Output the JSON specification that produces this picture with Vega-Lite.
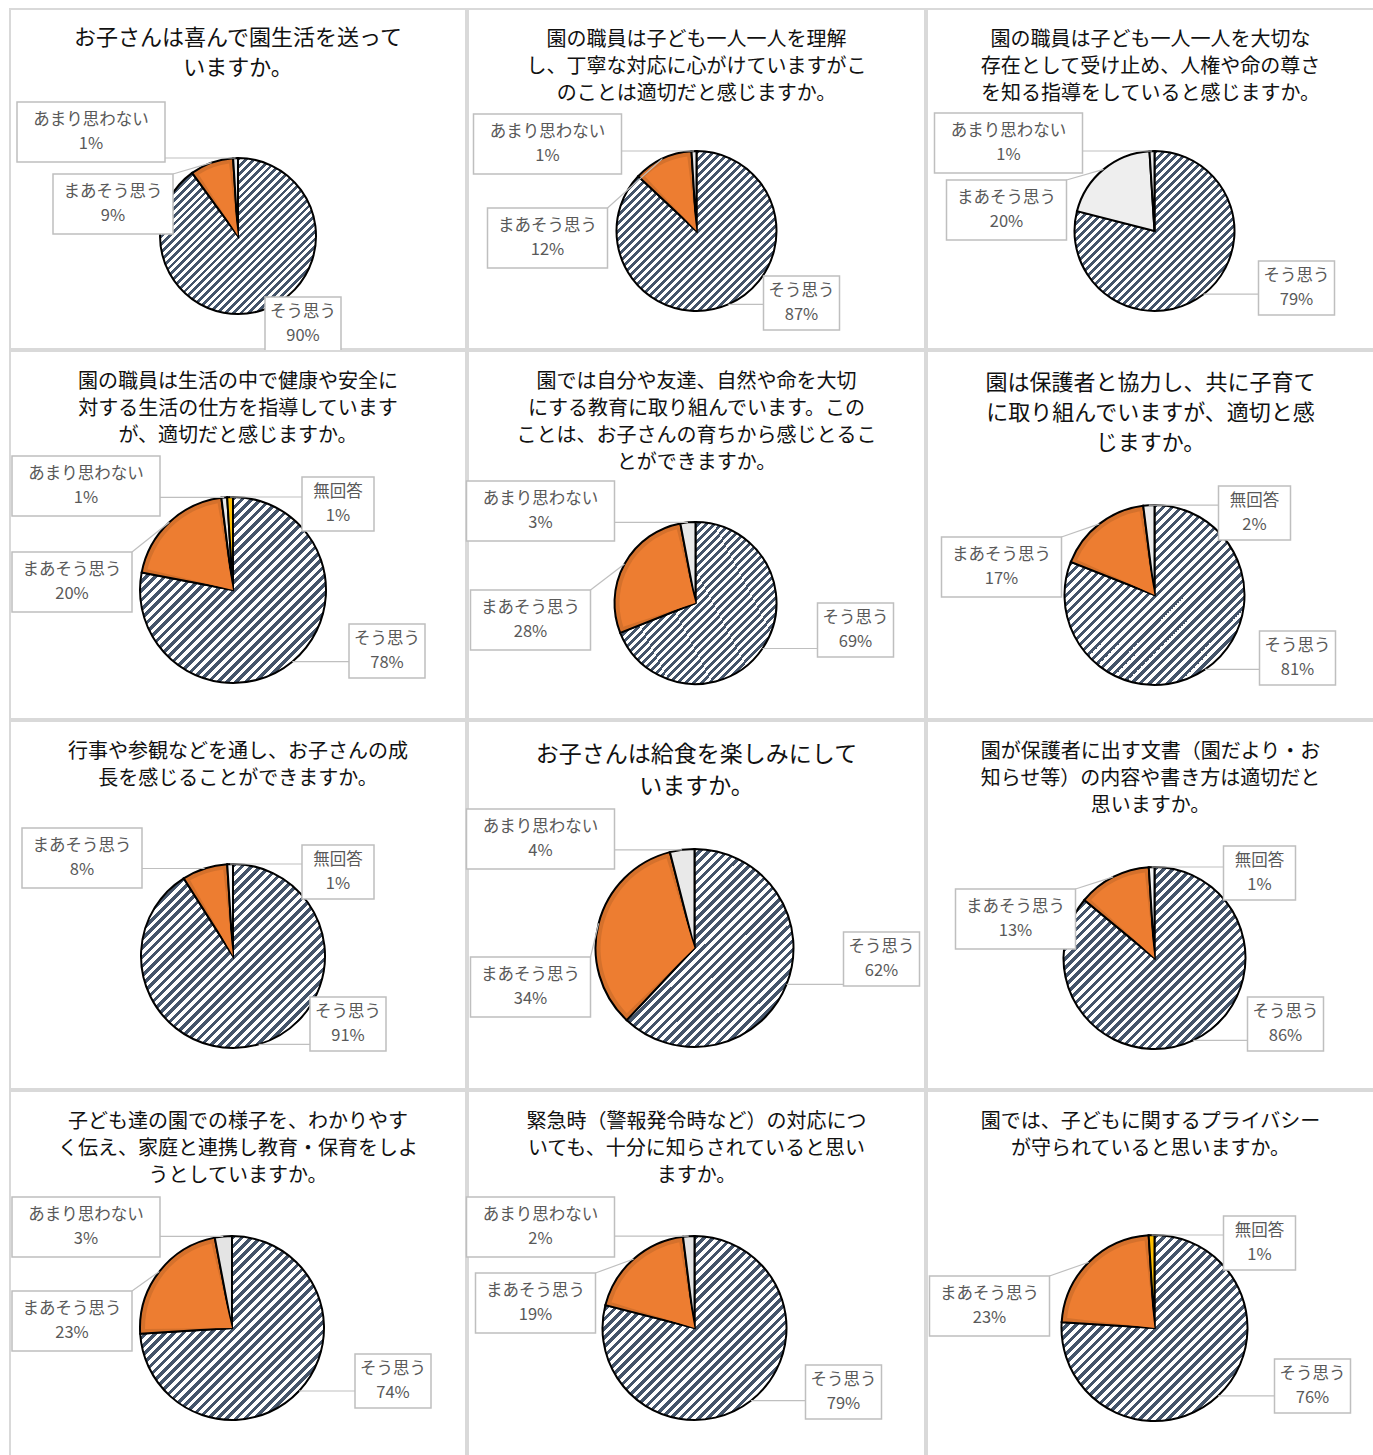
{
"$schema": "https://vega.github.io/schema/vega-lite/v6.json",
"background": "white",
"padding": {"left": 8, "top": 8, "right": 0, "bottom": 0},
"params": [{"name": "stripe", "value": {"gradient": "linear", "x1": 0, "y1": 0, "x2": 1, "y2": 1, "stops": [
{"offset":0,"color":"#44546A"},{"offset":0.0125,"color":"#44546A"},{"offset":0.0125,"color":"#fff"},{"offset":0.025,"color":"#fff"},
{"offset":0.025,"color":"#44546A"},{"offset":0.0375,"color":"#44546A"},{"offset":0.0375,"color":"#fff"},{"offset":0.05,"color":"#fff"},
{"offset":0.05,"color":"#44546A"},{"offset":0.0625,"color":"#44546A"},{"offset":0.0625,"color":"#fff"},{"offset":0.075,"color":"#fff"},
{"offset":0.075,"color":"#44546A"},{"offset":0.0875,"color":"#44546A"},{"offset":0.0875,"color":"#fff"},{"offset":0.1,"color":"#fff"},
{"offset":0.1,"color":"#44546A"},{"offset":0.1125,"color":"#44546A"},{"offset":0.1125,"color":"#fff"},{"offset":0.125,"color":"#fff"},
{"offset":0.125,"color":"#44546A"},{"offset":0.1375,"color":"#44546A"},{"offset":0.1375,"color":"#fff"},{"offset":0.15,"color":"#fff"},
{"offset":0.15,"color":"#44546A"},{"offset":0.1625,"color":"#44546A"},{"offset":0.1625,"color":"#fff"},{"offset":0.175,"color":"#fff"},
{"offset":0.175,"color":"#44546A"},{"offset":0.1875,"color":"#44546A"},{"offset":0.1875,"color":"#fff"},{"offset":0.2,"color":"#fff"},
{"offset":0.2,"color":"#44546A"},{"offset":0.2125,"color":"#44546A"},{"offset":0.2125,"color":"#fff"},{"offset":0.225,"color":"#fff"},
{"offset":0.225,"color":"#44546A"},{"offset":0.2375,"color":"#44546A"},{"offset":0.2375,"color":"#fff"},{"offset":0.25,"color":"#fff"},
{"offset":0.25,"color":"#44546A"},{"offset":0.2625,"color":"#44546A"},{"offset":0.2625,"color":"#fff"},{"offset":0.275,"color":"#fff"},
{"offset":0.275,"color":"#44546A"},{"offset":0.2875,"color":"#44546A"},{"offset":0.2875,"color":"#fff"},{"offset":0.3,"color":"#fff"},
{"offset":0.3,"color":"#44546A"},{"offset":0.3125,"color":"#44546A"},{"offset":0.3125,"color":"#fff"},{"offset":0.325,"color":"#fff"},
{"offset":0.325,"color":"#44546A"},{"offset":0.3375,"color":"#44546A"},{"offset":0.3375,"color":"#fff"},{"offset":0.35,"color":"#fff"},
{"offset":0.35,"color":"#44546A"},{"offset":0.3625,"color":"#44546A"},{"offset":0.3625,"color":"#fff"},{"offset":0.375,"color":"#fff"},
{"offset":0.375,"color":"#44546A"},{"offset":0.3875,"color":"#44546A"},{"offset":0.3875,"color":"#fff"},{"offset":0.4,"color":"#fff"},
{"offset":0.4,"color":"#44546A"},{"offset":0.4125,"color":"#44546A"},{"offset":0.4125,"color":"#fff"},{"offset":0.425,"color":"#fff"},
{"offset":0.425,"color":"#44546A"},{"offset":0.4375,"color":"#44546A"},{"offset":0.4375,"color":"#fff"},{"offset":0.45,"color":"#fff"},
{"offset":0.45,"color":"#44546A"},{"offset":0.4625,"color":"#44546A"},{"offset":0.4625,"color":"#fff"},{"offset":0.475,"color":"#fff"},
{"offset":0.475,"color":"#44546A"},{"offset":0.4875,"color":"#44546A"},{"offset":0.4875,"color":"#fff"},{"offset":0.5,"color":"#fff"},
{"offset":0.5,"color":"#44546A"},{"offset":0.5125,"color":"#44546A"},{"offset":0.5125,"color":"#fff"},{"offset":0.525,"color":"#fff"},
{"offset":0.525,"color":"#44546A"},{"offset":0.5375,"color":"#44546A"},{"offset":0.5375,"color":"#fff"},{"offset":0.55,"color":"#fff"},
{"offset":0.55,"color":"#44546A"},{"offset":0.5625,"color":"#44546A"},{"offset":0.5625,"color":"#fff"},{"offset":0.575,"color":"#fff"},
{"offset":0.575,"color":"#44546A"},{"offset":0.5875,"color":"#44546A"},{"offset":0.5875,"color":"#fff"},{"offset":0.6,"color":"#fff"},
{"offset":0.6,"color":"#44546A"},{"offset":0.6125,"color":"#44546A"},{"offset":0.6125,"color":"#fff"},{"offset":0.625,"color":"#fff"},
{"offset":0.625,"color":"#44546A"},{"offset":0.6375,"color":"#44546A"},{"offset":0.6375,"color":"#fff"},{"offset":0.65,"color":"#fff"},
{"offset":0.65,"color":"#44546A"},{"offset":0.6625,"color":"#44546A"},{"offset":0.6625,"color":"#fff"},{"offset":0.675,"color":"#fff"},
{"offset":0.675,"color":"#44546A"},{"offset":0.6875,"color":"#44546A"},{"offset":0.6875,"color":"#fff"},{"offset":0.7,"color":"#fff"},
{"offset":0.7,"color":"#44546A"},{"offset":0.7125,"color":"#44546A"},{"offset":0.7125,"color":"#fff"},{"offset":0.725,"color":"#fff"},
{"offset":0.725,"color":"#44546A"},{"offset":0.7375,"color":"#44546A"},{"offset":0.7375,"color":"#fff"},{"offset":0.75,"color":"#fff"},
{"offset":0.75,"color":"#44546A"},{"offset":0.7625,"color":"#44546A"},{"offset":0.7625,"color":"#fff"},{"offset":0.775,"color":"#fff"},
{"offset":0.775,"color":"#44546A"},{"offset":0.7875,"color":"#44546A"},{"offset":0.7875,"color":"#fff"},{"offset":0.8,"color":"#fff"},
{"offset":0.8,"color":"#44546A"},{"offset":0.8125,"color":"#44546A"},{"offset":0.8125,"color":"#fff"},{"offset":0.825,"color":"#fff"},
{"offset":0.825,"color":"#44546A"},{"offset":0.8375,"color":"#44546A"},{"offset":0.8375,"color":"#fff"},{"offset":0.85,"color":"#fff"},
{"offset":0.85,"color":"#44546A"},{"offset":0.8625,"color":"#44546A"},{"offset":0.8625,"color":"#fff"},{"offset":0.875,"color":"#fff"},
{"offset":0.875,"color":"#44546A"},{"offset":0.8875,"color":"#44546A"},{"offset":0.8875,"color":"#fff"},{"offset":0.9,"color":"#fff"},
{"offset":0.9,"color":"#44546A"},{"offset":0.9125,"color":"#44546A"},{"offset":0.9125,"color":"#fff"},{"offset":0.925,"color":"#fff"},
{"offset":0.925,"color":"#44546A"},{"offset":0.9375,"color":"#44546A"},{"offset":0.9375,"color":"#fff"},{"offset":0.95,"color":"#fff"},
{"offset":0.95,"color":"#44546A"},{"offset":0.9625,"color":"#44546A"},{"offset":0.9625,"color":"#fff"},{"offset":0.975,"color":"#fff"},
{"offset":0.975,"color":"#44546A"},{"offset":0.9875,"color":"#44546A"},{"offset":0.9875,"color":"#fff"},{"offset":1,"color":"#fff"}
]}},
{"name": "stripe8", "expr": "merge(stripe, {x2: 0.906, y2: 1.079})"}],
"datasets": {"t": [
{"q":1,"cat":"そう思う","pct":0.90,"o":1},{"q":1,"cat":"まあそう思う","pct":0.09,"o":2},{"q":1,"cat":"あまり思わない","pct":0.01,"o":3},
{"q":2,"cat":"そう思う","pct":0.87,"o":1},{"q":2,"cat":"まあそう思う","pct":0.12,"o":2},{"q":2,"cat":"あまり思わない","pct":0.01,"o":3},
{"q":3,"cat":"そう思う","pct":0.79,"o":1},{"q":3,"cat":"まあそう思う","pct":0.20,"o":2},{"q":3,"cat":"あまり思わない","pct":0.01,"o":3},
{"q":4,"cat":"そう思う","pct":0.78,"o":1},{"q":4,"cat":"まあそう思う","pct":0.20,"o":2},{"q":4,"cat":"あまり思わない","pct":0.01,"o":3},{"q":4,"cat":"無回答","pct":0.01,"o":4},
{"q":5,"cat":"そう思う","pct":0.69,"o":1},{"q":5,"cat":"まあそう思う","pct":0.28,"o":2},{"q":5,"cat":"あまり思わない","pct":0.03,"o":3},
{"q":6,"cat":"そう思う","pct":0.81,"o":1},{"q":6,"cat":"まあそう思う","pct":0.17,"o":2},{"q":6,"cat":"無回答","pct":0.02,"o":4},
{"q":7,"cat":"そう思う","pct":0.91,"o":1},{"q":7,"cat":"まあそう思う","pct":0.08,"o":2},{"q":7,"cat":"無回答","pct":0.01,"o":4},
{"q":8,"cat":"そう思う","pct":0.62,"o":1},{"q":8,"cat":"まあそう思う","pct":0.34,"o":2},{"q":8,"cat":"あまり思わない","pct":0.04,"o":3},
{"q":9,"cat":"そう思う","pct":0.86,"o":1},{"q":9,"cat":"まあそう思う","pct":0.13,"o":2},{"q":9,"cat":"無回答","pct":0.01,"o":4},
{"q":10,"cat":"そう思う","pct":0.74,"o":1},{"q":10,"cat":"まあそう思う","pct":0.23,"o":2},{"q":10,"cat":"あまり思わない","pct":0.03,"o":3},
{"q":11,"cat":"そう思う","pct":0.79,"o":1},{"q":11,"cat":"まあそう思う","pct":0.19,"o":2},{"q":11,"cat":"あまり思わない","pct":0.02,"o":3},
{"q":12,"cat":"そう思う","pct":0.76,"o":1},{"q":12,"cat":"まあそう思う","pct":0.23,"o":2},{"q":12,"cat":"無回答","pct":0.01,"o":4}
]},
"config": {
 "view": {"stroke": "#d9d9d9", "strokeWidth": 2},
 "title": {"font": "Noto Sans CJK JP", "fontWeight": "normal", "color": "#111", "anchor": "middle", "frame": "group"},
 "text": {"font": "Noto Sans CJK JP", "align": "center", "baseline": "middle"}
},
"columns": 3,
"spacing": {"row": 2, "column": 2},
"bounds": "flush",
"align": "each",
"concat": [
{"width": 456, "height": 340, "view": {"stroke": "#d9d9d9", "strokeWidth": 2},
 "title": {"text": ["お子さんは喜んで園生活を送って", "いますか。"], "fontSize": 22, "lineHeight": 30, "offset": -71},
 "data": {"name": "t"}, "transform": [{"filter": "datum.q===1"}],
 "layer": [
  {"mark": {"type": "arc", "radius": 78, "stroke": "#000", "strokeWidth": 2, "fill": {"expr": "stripe"}, "xOffset": 0, "yOffset": 57},
   "encoding": {"theta": {"field": "pct", "type": "quantitative", "stack": true}, "order": {"field": "o", "type": "quantitative"},
    "fill": {"condition": [{"test": "datum.cat==='まあそう思う'", "value": "#D5712C"}, {"test": "datum.cat==='あまり思わない'", "value": "#e9e9e9"}, {"test": "datum.cat==='無回答'", "value": "#efefef"}]}}},
  {"mark": {"type": "arc", "radius": 73, "padAngle": 0.12, "xOffset": 0, "yOffset": 57},
   "encoding": {"theta": {"field": "pct", "type": "quantitative", "stack": true}, "order": {"field": "o", "type": "quantitative"},
    "fill": {"condition": {"test": "datum.cat==='まあそう思う'", "value": "#ED7D31"}, "value": "transparent"}}},
  {"mark": {"type": "point", "filled": false, "stroke": "#bfbfbf", "strokeWidth": 1.2, "opacity": 1, "size": 40000, "xOffset": 0, "yOffset": 57},
   "encoding": {"shape": {"condition": [{"test": "datum.cat==='そう思う'", "value": "M0,0"}, {"test": "datum.cat==='まあそう思う'", "value": "M-0.65,-0.62L-0.264,-0.734"}, {"test": "datum.cat==='あまり思わない'", "value": "M-0.73,-0.78L-0.024,-0.78"}], "value": "M0,0"}}},
  {"mark": {"type": "point", "filled": true, "fill": "#fff", "stroke": "#bfbfbf", "strokeWidth": 1.5, "opacity": 1,
    "xOffset": {"expr": "datum.cat==='そう思う'?65:datum.cat==='まあそう思う'?-125:-147"},
    "yOffset": {"expr": "datum.cat==='そう思う'?145:datum.cat==='まあそう思う'?25:-47"}},
   "encoding": {"shape": {"condition": [{"test": "datum.cat==='そう思う'", "value": "M-1,-0.71H1V0.71H-1Z"}, {"test": "datum.cat==='まあそう思う'", "value": "M-1,-0.5H1V0.5H-1Z"}, {"test": "datum.cat==='あまり思わない'", "value": "M-1,-0.405H1V0.405H-1Z"}], "value": "M-1,-0.75H1V0.75H-1Z"},
    "size": {"condition": [{"test": "datum.cat==='そう思う'", "value": 5776}, {"test": "datum.cat==='まあそう思う'", "value": 14400}, {"test": "datum.cat==='あまり思わない'", "value": 21904}], "value": 5184}}},
  {"mark": {"type": "text", "fontSize": 16.5, "fill": "#595959",
    "dx": {"expr": "datum.cat==='そう思う'?65:datum.cat==='まあそう思う'?-125:-147"},
    "dy": {"expr": "(datum.cat==='そう思う'?145:datum.cat==='まあそう思う'?25:-47)-12"}},
   "encoding": {"text": {"field": "cat", "type": "nominal"}}},
  {"mark": {"type": "text", "fontSize": 16.5, "fill": "#595959",
    "dx": {"expr": "datum.cat==='そう思う'?65:datum.cat==='まあそう思う'?-125:-147"},
    "dy": {"expr": "(datum.cat==='そう思う'?145:datum.cat==='まあそう思う'?25:-47)+12"}},
   "encoding": {"text": {"field": "pct", "type": "quantitative", "format": ".0%"}}}
 ]},
{"width": 457, "height": 340, "view": {"stroke": "#d9d9d9", "strokeWidth": 2},
 "title": {"text": ["園の職員は子ども一人一人を理解", "し、丁寧な対応に心がけていますがこ", "のことは適切だと感じますか。"], "fontSize": 20, "lineHeight": 27, "offset": -95},
 "data": {"name": "t"}, "transform": [{"filter": "datum.q===2"}],
 "layer": [
  {"mark": {"type": "arc", "radius": 80, "stroke": "#000", "strokeWidth": 2, "fill": {"expr": "stripe"}, "xOffset": 0, "yOffset": 52},
   "encoding": {"theta": {"field": "pct", "type": "quantitative", "stack": true}, "order": {"field": "o", "type": "quantitative"},
    "fill": {"condition": [{"test": "datum.cat==='まあそう思う'", "value": "#D5712C"}, {"test": "datum.cat==='あまり思わない'", "value": "#e9e9e9"}, {"test": "datum.cat==='無回答'", "value": "#efefef"}]}}},
  {"mark": {"type": "arc", "radius": 75, "padAngle": 0.12, "xOffset": 0, "yOffset": 52},
   "encoding": {"theta": {"field": "pct", "type": "quantitative", "stack": true}, "order": {"field": "o", "type": "quantitative"},
    "fill": {"condition": {"test": "datum.cat==='まあそう思う'", "value": "#ED7D31"}, "value": "transparent"}}},
  {"mark": {"type": "point", "filled": false, "stroke": "#bfbfbf", "strokeWidth": 1.2, "opacity": 1, "size": 40000, "xOffset": 0, "yOffset": 52},
   "encoding": {"shape": {"condition": [{"test": "datum.cat==='そう思う'", "value": "M0.67,0.734L0.318,0.734"}, {"test": "datum.cat==='まあそう思う'", "value": "M-0.89,-0.23L-0.341,-0.724"}, {"test": "datum.cat==='あまり思わない'", "value": "M-0.75,-0.8L-0.025,-0.8"}], "value": "M0,0"}}},
  {"mark": {"type": "point", "filled": true, "fill": "#fff", "stroke": "#bfbfbf", "strokeWidth": 1.5, "opacity": 1,
    "xOffset": {"expr": "datum.cat==='そう思う'?105:datum.cat==='まあそう思う'?-149:-149"},
    "yOffset": {"expr": "datum.cat==='そう思う'?124:datum.cat==='まあそう思う'?59:-35"}},
   "encoding": {"shape": {"condition": [{"test": "datum.cat==='そう思う'", "value": "M-1,-0.71H1V0.71H-1Z"}, {"test": "datum.cat==='まあそう思う'", "value": "M-1,-0.5H1V0.5H-1Z"}, {"test": "datum.cat==='あまり思わない'", "value": "M-1,-0.405H1V0.405H-1Z"}], "value": "M-1,-0.75H1V0.75H-1Z"},
    "size": {"condition": [{"test": "datum.cat==='そう思う'", "value": 5776}, {"test": "datum.cat==='まあそう思う'", "value": 14400}, {"test": "datum.cat==='あまり思わない'", "value": 21904}], "value": 5184}}},
  {"mark": {"type": "text", "fontSize": 16.5, "fill": "#595959",
    "dx": {"expr": "datum.cat==='そう思う'?105:datum.cat==='まあそう思う'?-149:-149"},
    "dy": {"expr": "(datum.cat==='そう思う'?124:datum.cat==='まあそう思う'?59:-35)-12"}},
   "encoding": {"text": {"field": "cat", "type": "nominal"}}},
  {"mark": {"type": "text", "fontSize": 16.5, "fill": "#595959",
    "dx": {"expr": "datum.cat==='そう思う'?105:datum.cat==='まあそう思う'?-149:-149"},
    "dy": {"expr": "(datum.cat==='そう思う'?124:datum.cat==='まあそう思う'?59:-35)+12"}},
   "encoding": {"text": {"field": "pct", "type": "quantitative", "format": ".0%"}}}
 ]},
{"width": 447, "height": 340, "view": {"stroke": "#d9d9d9", "strokeWidth": 2},
 "title": {"text": ["園の職員は子ども一人一人を大切な", "存在として受け止め、人権や命の尊さ", "を知る指導をしていると感じますか。"], "fontSize": 20, "lineHeight": 27, "offset": -95},
 "data": {"name": "t"}, "transform": [{"filter": "datum.q===3"}],
 "layer": [
  {"mark": {"type": "arc", "radius": 80, "stroke": "#000", "strokeWidth": 2, "fill": {"expr": "stripe"}, "xOffset": 4, "yOffset": 52},
   "encoding": {"theta": {"field": "pct", "type": "quantitative", "stack": true}, "order": {"field": "o", "type": "quantitative"},
    "fill": {"condition": [{"test": "datum.cat==='まあそう思う'", "value": "#eeeeee"}, {"test": "datum.cat==='あまり思わない'", "value": "#e9e9e9"}, {"test": "datum.cat==='無回答'", "value": "#efefef"}]}}},
  {"mark": {"type": "point", "filled": false, "stroke": "#bfbfbf", "strokeWidth": 1.2, "opacity": 1, "size": 40000, "xOffset": 4, "yOffset": 52},
   "encoding": {"shape": {"condition": [{"test": "datum.cat==='そう思う'", "value": "M1.04,0.632L0.49,0.632"}, {"test": "datum.cat==='まあそう思う'", "value": "M-0.88,-0.51L-0.51,-0.616"}, {"test": "datum.cat==='あまり思わない'", "value": "M-0.72,-0.8L-0.025,-0.8"}], "value": "M0,0"}}},
  {"mark": {"type": "point", "filled": true, "fill": "#fff", "stroke": "#bfbfbf", "strokeWidth": 1.5, "opacity": 1,
    "xOffset": {"expr": "datum.cat==='そう思う'?146:datum.cat==='まあそう思う'?-144:-142"},
    "yOffset": {"expr": "datum.cat==='そう思う'?109:datum.cat==='まあそう思う'?31:-36"}},
   "encoding": {"shape": {"condition": [{"test": "datum.cat==='そう思う'", "value": "M-1,-0.71H1V0.71H-1Z"}, {"test": "datum.cat==='まあそう思う'", "value": "M-1,-0.5H1V0.5H-1Z"}, {"test": "datum.cat==='あまり思わない'", "value": "M-1,-0.405H1V0.405H-1Z"}], "value": "M-1,-0.75H1V0.75H-1Z"},
    "size": {"condition": [{"test": "datum.cat==='そう思う'", "value": 5776}, {"test": "datum.cat==='まあそう思う'", "value": 14400}, {"test": "datum.cat==='あまり思わない'", "value": 21904}], "value": 5184}}},
  {"mark": {"type": "text", "fontSize": 16.5, "fill": "#595959",
    "dx": {"expr": "datum.cat==='そう思う'?146:datum.cat==='まあそう思う'?-144:-142"},
    "dy": {"expr": "(datum.cat==='そう思う'?109:datum.cat==='まあそう思う'?31:-36)-12"}},
   "encoding": {"text": {"field": "cat", "type": "nominal"}}},
  {"mark": {"type": "text", "fontSize": 16.5, "fill": "#595959",
    "dx": {"expr": "datum.cat==='そう思う'?146:datum.cat==='まあそう思う'?-144:-142"},
    "dy": {"expr": "(datum.cat==='そう思う'?109:datum.cat==='まあそう思う'?31:-36)+12"}},
   "encoding": {"text": {"field": "pct", "type": "quantitative", "format": ".0%"}}}
 ]},
{"width": 456, "height": 368, "view": {"stroke": "#d9d9d9", "strokeWidth": 2},
 "title": {"text": ["園の職員は生活の中で健康や安全に", "対する生活の仕方を指導しています", "が、適切だと感じますか。"], "fontSize": 20, "lineHeight": 27, "offset": -95},
 "data": {"name": "t"}, "transform": [{"filter": "datum.q===4"}],
 "layer": [
  {"mark": {"type": "arc", "radius": 93, "stroke": "#000", "strokeWidth": 2, "fill": {"expr": "stripe"}, "xOffset": -5, "yOffset": 55},
   "encoding": {"theta": {"field": "pct", "type": "quantitative", "stack": true}, "order": {"field": "o", "type": "quantitative"},
    "fill": {"condition": [{"test": "datum.cat==='まあそう思う'", "value": "#D5712C"}, {"test": "datum.cat==='あまり思わない'", "value": "#e9e9e9"}, {"test": "datum.cat==='無回答'", "value": "#FFC000"}]}}},
  {"mark": {"type": "arc", "radius": 88, "padAngle": 0.1, "xOffset": -5, "yOffset": 55},
   "encoding": {"theta": {"field": "pct", "type": "quantitative", "stack": true}, "order": {"field": "o", "type": "quantitative"},
    "fill": {"condition": {"test": "datum.cat==='まあそう思う'", "value": "#ED7D31"}, "value": "transparent"}}},
  {"mark": {"type": "point", "filled": false, "stroke": "#bfbfbf", "strokeWidth": 1.2, "opacity": 1, "size": 40000, "xOffset": -5, "yOffset": 55},
   "encoding": {"shape": {"condition": [{"test": "datum.cat==='そう思う'", "value": "M1.16,0.717L0.593,0.717"}, {"test": "datum.cat==='まあそう思う'", "value": "M-1.01,-0.38L-0.637,-0.678"}, {"test": "datum.cat==='あまり思わない'", "value": "M-0.73,-0.926L-0.088,-0.926"}], "value": "M0.69,-0.93L-0.029,-0.93"}}},
  {"mark": {"type": "point", "filled": true, "fill": "#fff", "stroke": "#bfbfbf", "strokeWidth": 1.5, "opacity": 1,
    "xOffset": {"expr": "datum.cat==='そう思う'?149:datum.cat==='まあそう思う'?-166:datum.cat==='あまり思わない'?-152:100"},
    "yOffset": {"expr": "datum.cat==='そう思う'?116:datum.cat==='まあそう思う'?47:datum.cat==='あまり思わない'?-49:-31"}},
   "encoding": {"shape": {"condition": [{"test": "datum.cat==='そう思う'", "value": "M-1,-0.71H1V0.71H-1Z"}, {"test": "datum.cat==='まあそう思う'", "value": "M-1,-0.5H1V0.5H-1Z"}, {"test": "datum.cat==='あまり思わない'", "value": "M-1,-0.405H1V0.405H-1Z"}], "value": "M-1,-0.75H1V0.75H-1Z"},
    "size": {"condition": [{"test": "datum.cat==='そう思う'", "value": 5776}, {"test": "datum.cat==='まあそう思う'", "value": 14400}, {"test": "datum.cat==='あまり思わない'", "value": 21904}], "value": 5184}}},
  {"mark": {"type": "text", "fontSize": 16.5, "fill": "#595959",
    "dx": {"expr": "datum.cat==='そう思う'?149:datum.cat==='まあそう思う'?-166:datum.cat==='あまり思わない'?-152:100"},
    "dy": {"expr": "(datum.cat==='そう思う'?116:datum.cat==='まあそう思う'?47:datum.cat==='あまり思わない'?-49:-31)-12"}},
   "encoding": {"text": {"field": "cat", "type": "nominal"}}},
  {"mark": {"type": "text", "fontSize": 16.5, "fill": "#595959",
    "dx": {"expr": "datum.cat==='そう思う'?149:datum.cat==='まあそう思う'?-166:datum.cat==='あまり思わない'?-152:100"},
    "dy": {"expr": "(datum.cat==='そう思う'?116:datum.cat==='まあそう思う'?47:datum.cat==='あまり思わない'?-49:-31)+12"}},
   "encoding": {"text": {"field": "pct", "type": "quantitative", "format": ".0%"}}}
 ]},
{"width": 457, "height": 368, "view": {"stroke": "#d9d9d9", "strokeWidth": 2},
 "title": {"text": ["園では自分や友達、自然や命を大切", "にする教育に取り組んでいます。この", "ことは、お子さんの育ちから感じとるこ", "とができますか。"], "fontSize": 20, "lineHeight": 27, "offset": -122},
 "data": {"name": "t"}, "transform": [{"filter": "datum.q===5"}],
 "layer": [
  {"mark": {"type": "arc", "radius": 81, "stroke": "#000", "strokeWidth": 2, "fill": {"expr": "stripe"}, "xOffset": -1, "yOffset": 68},
   "encoding": {"theta": {"field": "pct", "type": "quantitative", "stack": true}, "order": {"field": "o", "type": "quantitative"},
    "fill": {"condition": [{"test": "datum.cat==='まあそう思う'", "value": "#D5712C"}, {"test": "datum.cat==='あまり思わない'", "value": "#e9e9e9"}, {"test": "datum.cat==='無回答'", "value": "#efefef"}]}}},
  {"mark": {"type": "arc", "radius": 76, "padAngle": 0.12, "xOffset": -1, "yOffset": 68},
   "encoding": {"theta": {"field": "pct", "type": "quantitative", "stack": true}, "order": {"field": "o", "type": "quantitative"},
    "fill": {"condition": {"test": "datum.cat==='まあそう思う'", "value": "#ED7D31"}, "value": "transparent"}}},
  {"mark": {"type": "point", "filled": false, "stroke": "#bfbfbf", "strokeWidth": 1.2, "opacity": 1, "size": 40000, "xOffset": -1, "yOffset": 68},
   "encoding": {"shape": {"condition": [{"test": "datum.cat==='そう思う'", "value": "M1.22,0.455L0.67,0.455"}, {"test": "datum.cat==='まあそう思う'", "value": "M-1.05,-0.13L-0.71,-0.39"}, {"test": "datum.cat==='あまり思わない'", "value": "M-0.81,-0.806L-0.076,-0.806"}], "value": "M0,0"}}},
  {"mark": {"type": "point", "filled": true, "fill": "#fff", "stroke": "#bfbfbf", "strokeWidth": 1.5, "opacity": 1,
    "xOffset": {"expr": "datum.cat==='そう思う'?159:datum.cat==='まあそう思う'?-166:-156"},
    "yOffset": {"expr": "datum.cat==='そう思う'?95:datum.cat==='まあそう思う'?85:-24"}},
   "encoding": {"shape": {"condition": [{"test": "datum.cat==='そう思う'", "value": "M-1,-0.71H1V0.71H-1Z"}, {"test": "datum.cat==='まあそう思う'", "value": "M-1,-0.5H1V0.5H-1Z"}, {"test": "datum.cat==='あまり思わない'", "value": "M-1,-0.405H1V0.405H-1Z"}], "value": "M-1,-0.75H1V0.75H-1Z"},
    "size": {"condition": [{"test": "datum.cat==='そう思う'", "value": 5776}, {"test": "datum.cat==='まあそう思う'", "value": 14400}, {"test": "datum.cat==='あまり思わない'", "value": 21904}], "value": 5184}}},
  {"mark": {"type": "text", "fontSize": 16.5, "fill": "#595959",
    "dx": {"expr": "datum.cat==='そう思う'?159:datum.cat==='まあそう思う'?-166:-156"},
    "dy": {"expr": "(datum.cat==='そう思う'?95:datum.cat==='まあそう思う'?85:-24)-12"}},
   "encoding": {"text": {"field": "cat", "type": "nominal"}}},
  {"mark": {"type": "text", "fontSize": 16.5, "fill": "#595959",
    "dx": {"expr": "datum.cat==='そう思う'?159:datum.cat==='まあそう思う'?-166:-156"},
    "dy": {"expr": "(datum.cat==='そう思う'?95:datum.cat==='まあそう思う'?85:-24)+12"}},
   "encoding": {"text": {"field": "pct", "type": "quantitative", "format": ".0%"}}}
 ]},
{"width": 447, "height": 368, "view": {"stroke": "#d9d9d9", "strokeWidth": 2},
 "title": {"text": ["園は保護者と協力し、共に子育て", "に取り組んでいますが、適切と感", "じますか。"], "fontSize": 22, "lineHeight": 30, "offset": -104},
 "data": {"name": "t"}, "transform": [{"filter": "datum.q===6"}],
 "layer": [
  {"mark": {"type": "arc", "radius": 90, "stroke": "#000", "strokeWidth": 2, "fill": {"expr": "stripe"}, "xOffset": 4, "yOffset": 60},
   "encoding": {"theta": {"field": "pct", "type": "quantitative", "stack": true}, "order": {"field": "o", "type": "quantitative"},
    "fill": {"condition": [{"test": "datum.cat==='まあそう思う'", "value": "#D5712C"}, {"test": "datum.cat==='あまり思わない'", "value": "#e9e9e9"}, {"test": "datum.cat==='無回答'", "value": "#ececec"}]}}},
  {"mark": {"type": "arc", "radius": 85, "padAngle": 0.1, "xOffset": 4, "yOffset": 60},
   "encoding": {"theta": {"field": "pct", "type": "quantitative", "stack": true}, "order": {"field": "o", "type": "quantitative"},
    "fill": {"condition": {"test": "datum.cat==='まあそう思う'", "value": "#ED7D31"}, "value": "transparent"}}},
  {"mark": {"type": "point", "filled": false, "stroke": "#bfbfbf", "strokeWidth": 1.2, "opacity": 1, "size": 40000, "xOffset": 4, "yOffset": 60},
   "encoding": {"shape": {"condition": [{"test": "datum.cat==='そう思う'", "value": "M1.05,0.744L0.506,0.744"}, {"test": "datum.cat==='まあそう思う'", "value": "M-0.93,-0.58L-0.552,-0.711"}, {"test": "datum.cat==='あまり思わない'", "value": "M0,0"}], "value": "M0.64,-0.898L-0.057,-0.898"}}},
  {"mark": {"type": "point", "filled": true, "fill": "#fff", "stroke": "#bfbfbf", "strokeWidth": 1.5, "opacity": 1,
    "xOffset": {"expr": "datum.cat==='そう思う'?147:datum.cat==='まあそう思う'?-149:104"},
    "yOffset": {"expr": "datum.cat==='そう思う'?123:datum.cat==='まあそう思う'?32:-22"}},
   "encoding": {"shape": {"condition": [{"test": "datum.cat==='そう思う'", "value": "M-1,-0.71H1V0.71H-1Z"}, {"test": "datum.cat==='まあそう思う'", "value": "M-1,-0.5H1V0.5H-1Z"}, {"test": "datum.cat==='あまり思わない'", "value": "M-1,-0.405H1V0.405H-1Z"}], "value": "M-1,-0.75H1V0.75H-1Z"},
    "size": {"condition": [{"test": "datum.cat==='そう思う'", "value": 5776}, {"test": "datum.cat==='まあそう思う'", "value": 14400}, {"test": "datum.cat==='あまり思わない'", "value": 21904}], "value": 5184}}},
  {"mark": {"type": "text", "fontSize": 16.5, "fill": "#595959",
    "dx": {"expr": "datum.cat==='そう思う'?147:datum.cat==='まあそう思う'?-149:104"},
    "dy": {"expr": "(datum.cat==='そう思う'?123:datum.cat==='まあそう思う'?32:-22)-12"}},
   "encoding": {"text": {"field": "cat", "type": "nominal"}}},
  {"mark": {"type": "text", "fontSize": 16.5, "fill": "#595959",
    "dx": {"expr": "datum.cat==='そう思う'?147:datum.cat==='まあそう思う'?-149:104"},
    "dy": {"expr": "(datum.cat==='そう思う'?123:datum.cat==='まあそう思う'?32:-22)+12"}},
   "encoding": {"text": {"field": "pct", "type": "quantitative", "format": ".0%"}}}
 ]},
{"width": 456, "height": 368, "view": {"stroke": "#d9d9d9", "strokeWidth": 2},
 "title": {"text": ["行事や参観などを通し、お子さんの成", "長を感じることができますか。"], "fontSize": 20, "lineHeight": 27, "offset": -68},
 "data": {"name": "t"}, "transform": [{"filter": "datum.q===7"}],
 "layer": [
  {"mark": {"type": "arc", "radius": 92, "stroke": "#000", "strokeWidth": 2, "fill": {"expr": "stripe"}, "xOffset": -5, "yOffset": 51},
   "encoding": {"theta": {"field": "pct", "type": "quantitative", "stack": true}, "order": {"field": "o", "type": "quantitative"},
    "fill": {"condition": [{"test": "datum.cat==='まあそう思う'", "value": "#D5712C"}, {"test": "datum.cat==='あまり思わない'", "value": "#e9e9e9"}, {"test": "datum.cat==='無回答'", "value": "#f4f4f4"}]}}},
  {"mark": {"type": "arc", "radius": 87, "padAngle": 0.1, "xOffset": -5, "yOffset": 51},
   "encoding": {"theta": {"field": "pct", "type": "quantitative", "stack": true}, "order": {"field": "o", "type": "quantitative"},
    "fill": {"condition": {"test": "datum.cat==='まあそう思う'", "value": "#ED7D31"}, "value": "transparent"}}},
  {"mark": {"type": "point", "filled": false, "stroke": "#bfbfbf", "strokeWidth": 1.2, "opacity": 1, "size": 40000, "xOffset": -5, "yOffset": 51},
   "encoding": {"shape": {"condition": [{"test": "datum.cat==='そう思う'", "value": "M0.77,0.883L0.257,0.883"}, {"test": "datum.cat==='まあそう思う'", "value": "M-0.91,-0.875L-0.284,-0.875"}, {"test": "datum.cat==='あまり思わない'", "value": "M0,0"}], "value": "M0.69,-0.92L-0.029,-0.92"}}},
  {"mark": {"type": "point", "filled": true, "fill": "#fff", "stroke": "#bfbfbf", "strokeWidth": 1.5, "opacity": 1,
    "xOffset": {"expr": "datum.cat==='そう思う'?110:datum.cat==='まあそう思う'?-156:100"},
    "yOffset": {"expr": "datum.cat==='そう思う'?119:datum.cat==='まあそう思う'?-47:-33"}},
   "encoding": {"shape": {"condition": [{"test": "datum.cat==='そう思う'", "value": "M-1,-0.71H1V0.71H-1Z"}, {"test": "datum.cat==='まあそう思う'", "value": "M-1,-0.5H1V0.5H-1Z"}, {"test": "datum.cat==='あまり思わない'", "value": "M-1,-0.405H1V0.405H-1Z"}], "value": "M-1,-0.75H1V0.75H-1Z"},
    "size": {"condition": [{"test": "datum.cat==='そう思う'", "value": 5776}, {"test": "datum.cat==='まあそう思う'", "value": 14400}, {"test": "datum.cat==='あまり思わない'", "value": 21904}], "value": 5184}}},
  {"mark": {"type": "text", "fontSize": 16.5, "fill": "#595959",
    "dx": {"expr": "datum.cat==='そう思う'?110:datum.cat==='まあそう思う'?-156:100"},
    "dy": {"expr": "(datum.cat==='そう思う'?119:datum.cat==='まあそう思う'?-47:-33)-12"}},
   "encoding": {"text": {"field": "cat", "type": "nominal"}}},
  {"mark": {"type": "text", "fontSize": 16.5, "fill": "#595959",
    "dx": {"expr": "datum.cat==='そう思う'?110:datum.cat==='まあそう思う'?-156:100"},
    "dy": {"expr": "(datum.cat==='そう思う'?119:datum.cat==='まあそう思う'?-47:-33)+12"}},
   "encoding": {"text": {"field": "pct", "type": "quantitative", "format": ".0%"}}}
 ]},
{"width": 457, "height": 368, "view": {"stroke": "#d9d9d9", "strokeWidth": 2},
 "title": {"text": ["お子さんは給食を楽しみにして", "いますか。"], "fontSize": 23, "lineHeight": 32, "offset": -78},
 "data": {"name": "t"}, "transform": [{"filter": "datum.q===8"}],
 "layer": [
  {"mark": {"type": "arc", "radius": 99, "stroke": "#000", "strokeWidth": 2, "fill": {"expr": "stripe8"}, "xOffset": -2, "yOffset": 43},
   "encoding": {"theta": {"field": "pct", "type": "quantitative", "stack": true}, "order": {"field": "o", "type": "quantitative"},
    "fill": {"condition": [{"test": "datum.cat==='まあそう思う'", "value": "#D5712C"}, {"test": "datum.cat==='あまり思わない'", "value": "#e9e9e9"}, {"test": "datum.cat==='無回答'", "value": "#efefef"}]}}},
  {"mark": {"type": "arc", "radius": 94, "padAngle": 0.1, "xOffset": -2, "yOffset": 43},
   "encoding": {"theta": {"field": "pct", "type": "quantitative", "stack": true}, "order": {"field": "o", "type": "quantitative"},
    "fill": {"condition": {"test": "datum.cat==='まあそう思う'", "value": "#ED7D31"}, "value": "transparent"}}},
  {"mark": {"type": "point", "filled": false, "stroke": "#bfbfbf", "strokeWidth": 1.2, "opacity": 1, "size": 40000, "xOffset": -2, "yOffset": 43},
   "encoding": {"shape": {"condition": [{"test": "datum.cat==='そう思う'", "value": "M1.49,0.364L0.92,0.364"}, {"test": "datum.cat==='まあそう思う'", "value": "M-1.04,0.09L-0.959,-0.246"}, {"test": "datum.cat==='あまり思わない'", "value": "M-0.8,-0.982L-0.124,-0.982"}], "value": "M0,0"}}},
  {"mark": {"type": "point", "filled": true, "fill": "#fff", "stroke": "#bfbfbf", "strokeWidth": 1.5, "opacity": 1,
    "xOffset": {"expr": "datum.cat==='そう思う'?185:datum.cat==='まあそう思う'?-166:-156"},
    "yOffset": {"expr": "datum.cat==='そう思う'?54:datum.cat==='まあそう思う'?82:-66"}},
   "encoding": {"shape": {"condition": [{"test": "datum.cat==='そう思う'", "value": "M-1,-0.71H1V0.71H-1Z"}, {"test": "datum.cat==='まあそう思う'", "value": "M-1,-0.5H1V0.5H-1Z"}, {"test": "datum.cat==='あまり思わない'", "value": "M-1,-0.405H1V0.405H-1Z"}], "value": "M-1,-0.75H1V0.75H-1Z"},
    "size": {"condition": [{"test": "datum.cat==='そう思う'", "value": 5776}, {"test": "datum.cat==='まあそう思う'", "value": 14400}, {"test": "datum.cat==='あまり思わない'", "value": 21904}], "value": 5184}}},
  {"mark": {"type": "text", "fontSize": 16.5, "fill": "#595959",
    "dx": {"expr": "datum.cat==='そう思う'?185:datum.cat==='まあそう思う'?-166:-156"},
    "dy": {"expr": "(datum.cat==='そう思う'?54:datum.cat==='まあそう思う'?82:-66)-12"}},
   "encoding": {"text": {"field": "cat", "type": "nominal"}}},
  {"mark": {"type": "text", "fontSize": 16.5, "fill": "#595959",
    "dx": {"expr": "datum.cat==='そう思う'?185:datum.cat==='まあそう思う'?-166:-156"},
    "dy": {"expr": "(datum.cat==='そう思う'?54:datum.cat==='まあそう思う'?82:-66)+12"}},
   "encoding": {"text": {"field": "pct", "type": "quantitative", "format": ".0%"}}}
 ]},
{"width": 447, "height": 368, "view": {"stroke": "#d9d9d9", "strokeWidth": 2},
 "title": {"text": ["園が保護者に出す文書（園だより・お", "知らせ等）の内容や書き方は適切だと", "思いますか。"], "fontSize": 20, "lineHeight": 27, "offset": -95},
 "data": {"name": "t"}, "transform": [{"filter": "datum.q===9"}],
 "layer": [
  {"mark": {"type": "arc", "radius": 91, "stroke": "#000", "strokeWidth": 2, "fill": {"expr": "stripe"}, "xOffset": 4, "yOffset": 53},
   "encoding": {"theta": {"field": "pct", "type": "quantitative", "stack": true}, "order": {"field": "o", "type": "quantitative"},
    "fill": {"condition": [{"test": "datum.cat==='まあそう思う'", "value": "#D5712C"}, {"test": "datum.cat==='あまり思わない'", "value": "#e9e9e9"}, {"test": "datum.cat==='無回答'", "value": "#f4f4f4"}]}}},
  {"mark": {"type": "arc", "radius": 86, "padAngle": 0.1, "xOffset": 4, "yOffset": 53},
   "encoding": {"theta": {"field": "pct", "type": "quantitative", "stack": true}, "order": {"field": "o", "type": "quantitative"},
    "fill": {"condition": {"test": "datum.cat==='まあそう思う'", "value": "#ED7D31"}, "value": "transparent"}}},
  {"mark": {"type": "point", "filled": false, "stroke": "#bfbfbf", "strokeWidth": 1.2, "opacity": 1, "size": 40000, "xOffset": 4, "yOffset": 53},
   "encoding": {"shape": {"condition": [{"test": "datum.cat==='そう思う'", "value": "M0.93,0.823L0.387,0.823"}, {"test": "datum.cat==='まあそう思う'", "value": "M-0.79,-0.69L-0.413,-0.811"}, {"test": "datum.cat==='あまり思わない'", "value": "M0,0"}], "value": "M0.69,-0.91L-0.029,-0.91"}}},
  {"mark": {"type": "point", "filled": true, "fill": "#fff", "stroke": "#bfbfbf", "strokeWidth": 1.5, "opacity": 1,
    "xOffset": {"expr": "datum.cat==='そう思う'?135:datum.cat==='まあそう思う'?-135:109"},
    "yOffset": {"expr": "datum.cat==='そう思う'?119:datum.cat==='まあそう思う'?14:-32"}},
   "encoding": {"shape": {"condition": [{"test": "datum.cat==='そう思う'", "value": "M-1,-0.71H1V0.71H-1Z"}, {"test": "datum.cat==='まあそう思う'", "value": "M-1,-0.5H1V0.5H-1Z"}, {"test": "datum.cat==='あまり思わない'", "value": "M-1,-0.405H1V0.405H-1Z"}], "value": "M-1,-0.75H1V0.75H-1Z"},
    "size": {"condition": [{"test": "datum.cat==='そう思う'", "value": 5776}, {"test": "datum.cat==='まあそう思う'", "value": 14400}, {"test": "datum.cat==='あまり思わない'", "value": 21904}], "value": 5184}}},
  {"mark": {"type": "text", "fontSize": 16.5, "fill": "#595959",
    "dx": {"expr": "datum.cat==='そう思う'?135:datum.cat==='まあそう思う'?-135:109"},
    "dy": {"expr": "(datum.cat==='そう思う'?119:datum.cat==='まあそう思う'?14:-32)-12"}},
   "encoding": {"text": {"field": "cat", "type": "nominal"}}},
  {"mark": {"type": "text", "fontSize": 16.5, "fill": "#595959",
    "dx": {"expr": "datum.cat==='そう思う'?135:datum.cat==='まあそう思う'?-135:109"},
    "dy": {"expr": "(datum.cat==='そう思う'?119:datum.cat==='まあそう思う'?14:-32)+12"}},
   "encoding": {"text": {"field": "pct", "type": "quantitative", "format": ".0%"}}}
 ]},
{"width": 456, "height": 368, "view": {"stroke": "#d9d9d9", "strokeWidth": 2},
 "title": {"text": ["子ども達の園での様子を、わかりやす", "く伝え、家庭と連携し教育・保育をしよ", "うとしていますか。"], "fontSize": 20, "lineHeight": 27, "offset": -95},
 "data": {"name": "t"}, "transform": [{"filter": "datum.q===10"}],
 "layer": [
  {"mark": {"type": "arc", "radius": 92, "stroke": "#000", "strokeWidth": 2, "fill": {"expr": "stripe"}, "xOffset": -6, "yOffset": 53},
   "encoding": {"theta": {"field": "pct", "type": "quantitative", "stack": true}, "order": {"field": "o", "type": "quantitative"},
    "fill": {"condition": [{"test": "datum.cat==='まあそう思う'", "value": "#D5712C"}, {"test": "datum.cat==='あまり思わない'", "value": "#e4e4e4"}, {"test": "datum.cat==='無回答'", "value": "#efefef"}]}}},
  {"mark": {"type": "arc", "radius": 87, "padAngle": 0.1, "xOffset": -6, "yOffset": 53},
   "encoding": {"theta": {"field": "pct", "type": "quantitative", "stack": true}, "order": {"field": "o", "type": "quantitative"},
    "fill": {"condition": {"test": "datum.cat==='まあそう思う'", "value": "#ED7D31"}, "value": "transparent"}}},
  {"mark": {"type": "point", "filled": false, "stroke": "#bfbfbf", "strokeWidth": 1.2, "opacity": 1, "size": 40000, "xOffset": -6, "yOffset": 53},
   "encoding": {"shape": {"condition": [{"test": "datum.cat==='そう思う'", "value": "M1.23,0.63L0.67,0.63"}, {"test": "datum.cat==='まあそう思う'", "value": "M-1,-0.37L-0.727,-0.564"}, {"test": "datum.cat==='あまり思わない'", "value": "M-0.72,-0.916L-0.087,-0.916"}], "value": "M0,0"}}},
  {"mark": {"type": "point", "filled": true, "fill": "#fff", "stroke": "#bfbfbf", "strokeWidth": 1.5, "opacity": 1,
    "xOffset": {"expr": "datum.cat==='そう思う'?155:datum.cat==='まあそう思う'?-166:-152"},
    "yOffset": {"expr": "datum.cat==='そう思う'?106:datum.cat==='まあそう思う'?46:-48"}},
   "encoding": {"shape": {"condition": [{"test": "datum.cat==='そう思う'", "value": "M-1,-0.71H1V0.71H-1Z"}, {"test": "datum.cat==='まあそう思う'", "value": "M-1,-0.5H1V0.5H-1Z"}, {"test": "datum.cat==='あまり思わない'", "value": "M-1,-0.405H1V0.405H-1Z"}], "value": "M-1,-0.75H1V0.75H-1Z"},
    "size": {"condition": [{"test": "datum.cat==='そう思う'", "value": 5776}, {"test": "datum.cat==='まあそう思う'", "value": 14400}, {"test": "datum.cat==='あまり思わない'", "value": 21904}], "value": 5184}}},
  {"mark": {"type": "text", "fontSize": 16.5, "fill": "#595959",
    "dx": {"expr": "datum.cat==='そう思う'?155:datum.cat==='まあそう思う'?-166:-152"},
    "dy": {"expr": "(datum.cat==='そう思う'?106:datum.cat==='まあそう思う'?46:-48)-12"}},
   "encoding": {"text": {"field": "cat", "type": "nominal"}}},
  {"mark": {"type": "text", "fontSize": 16.5, "fill": "#595959",
    "dx": {"expr": "datum.cat==='そう思う'?155:datum.cat==='まあそう思う'?-166:-152"},
    "dy": {"expr": "(datum.cat==='そう思う'?106:datum.cat==='まあそう思う'?46:-48)+12"}},
   "encoding": {"text": {"field": "pct", "type": "quantitative", "format": ".0%"}}}
 ]},
{"width": 457, "height": 368, "view": {"stroke": "#d9d9d9", "strokeWidth": 2},
 "title": {"text": ["緊急時（警報発令時など）の対応につ", "いても、十分に知らされていると思い", "ますか。"], "fontSize": 20, "lineHeight": 27, "offset": -95},
 "data": {"name": "t"}, "transform": [{"filter": "datum.q===11"}],
 "layer": [
  {"mark": {"type": "arc", "radius": 92, "stroke": "#000", "strokeWidth": 2, "fill": {"expr": "stripe"}, "xOffset": -2, "yOffset": 53},
   "encoding": {"theta": {"field": "pct", "type": "quantitative", "stack": true}, "order": {"field": "o", "type": "quantitative"},
    "fill": {"condition": [{"test": "datum.cat==='まあそう思う'", "value": "#D5712C"}, {"test": "datum.cat==='あまり思わない'", "value": "#e4e4e4"}, {"test": "datum.cat==='無回答'", "value": "#efefef"}]}}},
  {"mark": {"type": "arc", "radius": 87, "padAngle": 0.1, "xOffset": -2, "yOffset": 53},
   "encoding": {"theta": {"field": "pct", "type": "quantitative", "stack": true}, "order": {"field": "o", "type": "quantitative"},
    "fill": {"condition": {"test": "datum.cat==='まあそう思う'", "value": "#ED7D31"}, "value": "transparent"}}},
  {"mark": {"type": "point", "filled": false, "stroke": "#bfbfbf", "strokeWidth": 1.2, "opacity": 1, "size": 40000, "xOffset": -2, "yOffset": 53},
   "encoding": {"shape": {"condition": [{"test": "datum.cat==='そう思う'", "value": "M1.11,0.727L0.564,0.727"}, {"test": "datum.cat==='まあそう思う'", "value": "M-0.99,-0.55L-0.608,-0.69"}, {"test": "datum.cat==='あまり思わない'", "value": "M-0.8,-0.918L-0.058,-0.918"}], "value": "M0,0"}}},
  {"mark": {"type": "point", "filled": true, "fill": "#fff", "stroke": "#bfbfbf", "strokeWidth": 1.5, "opacity": 1,
    "xOffset": {"expr": "datum.cat==='そう思う'?147:datum.cat==='まあそう思う'?-161:-156"},
    "yOffset": {"expr": "datum.cat==='そう思う'?117:datum.cat==='まあそう思う'?28:-48"}},
   "encoding": {"shape": {"condition": [{"test": "datum.cat==='そう思う'", "value": "M-1,-0.71H1V0.71H-1Z"}, {"test": "datum.cat==='まあそう思う'", "value": "M-1,-0.5H1V0.5H-1Z"}, {"test": "datum.cat==='あまり思わない'", "value": "M-1,-0.405H1V0.405H-1Z"}], "value": "M-1,-0.75H1V0.75H-1Z"},
    "size": {"condition": [{"test": "datum.cat==='そう思う'", "value": 5776}, {"test": "datum.cat==='まあそう思う'", "value": 14400}, {"test": "datum.cat==='あまり思わない'", "value": 21904}], "value": 5184}}},
  {"mark": {"type": "text", "fontSize": 16.5, "fill": "#595959",
    "dx": {"expr": "datum.cat==='そう思う'?147:datum.cat==='まあそう思う'?-161:-156"},
    "dy": {"expr": "(datum.cat==='そう思う'?117:datum.cat==='まあそう思う'?28:-48)-12"}},
   "encoding": {"text": {"field": "cat", "type": "nominal"}}},
  {"mark": {"type": "text", "fontSize": 16.5, "fill": "#595959",
    "dx": {"expr": "datum.cat==='そう思う'?147:datum.cat==='まあそう思う'?-161:-156"},
    "dy": {"expr": "(datum.cat==='そう思う'?117:datum.cat==='まあそう思う'?28:-48)+12"}},
   "encoding": {"text": {"field": "pct", "type": "quantitative", "format": ".0%"}}}
 ]},
{"width": 447, "height": 368, "view": {"stroke": "#d9d9d9", "strokeWidth": 2},
 "title": {"text": ["園では、子どもに関するプライバシー", "が守られていると思いますか。"], "fontSize": 20, "lineHeight": 27, "offset": -68},
 "data": {"name": "t"}, "transform": [{"filter": "datum.q===12"}],
 "layer": [
  {"mark": {"type": "arc", "radius": 93, "stroke": "#000", "strokeWidth": 2, "fill": {"expr": "stripe"}, "xOffset": 4, "yOffset": 53},
   "encoding": {"theta": {"field": "pct", "type": "quantitative", "stack": true}, "order": {"field": "o", "type": "quantitative"},
    "fill": {"condition": [{"test": "datum.cat==='まあそう思う'", "value": "#D5712C"}, {"test": "datum.cat==='あまり思わない'", "value": "#e9e9e9"}, {"test": "datum.cat==='無回答'", "value": "#FFC000"}]}}},
  {"mark": {"type": "arc", "radius": 88, "padAngle": 0.1, "xOffset": 4, "yOffset": 53},
   "encoding": {"theta": {"field": "pct", "type": "quantitative", "stack": true}, "order": {"field": "o", "type": "quantitative"},
    "fill": {"condition": {"test": "datum.cat==='まあそう思う'", "value": "#ED7D31"}, "value": "transparent"}}},
  {"mark": {"type": "point", "filled": false, "stroke": "#bfbfbf", "strokeWidth": 1.2, "opacity": 1, "size": 40000, "xOffset": 4, "yOffset": 53},
   "encoding": {"shape": {"condition": [{"test": "datum.cat==='そう思う'", "value": "M1.2,0.678L0.637,0.678"}, {"test": "datum.cat==='まあそう思う'", "value": "M-1.05,-0.52L-0.658,-0.658"}, {"test": "datum.cat==='あまり思わない'", "value": "M0,0"}], "value": "M0.69,-0.93L-0.029,-0.93"}}},
  {"mark": {"type": "point", "filled": true, "fill": "#fff", "stroke": "#bfbfbf", "strokeWidth": 1.5, "opacity": 1,
    "xOffset": {"expr": "datum.cat==='そう思う'?162:datum.cat==='まあそう思う'?-161:109"},
    "yOffset": {"expr": "datum.cat==='そう思う'?111:datum.cat==='まあそう思う'?31:-32"}},
   "encoding": {"shape": {"condition": [{"test": "datum.cat==='そう思う'", "value": "M-1,-0.71H1V0.71H-1Z"}, {"test": "datum.cat==='まあそう思う'", "value": "M-1,-0.5H1V0.5H-1Z"}, {"test": "datum.cat==='あまり思わない'", "value": "M-1,-0.405H1V0.405H-1Z"}], "value": "M-1,-0.75H1V0.75H-1Z"},
    "size": {"condition": [{"test": "datum.cat==='そう思う'", "value": 5776}, {"test": "datum.cat==='まあそう思う'", "value": 14400}, {"test": "datum.cat==='あまり思わない'", "value": 21904}], "value": 5184}}},
  {"mark": {"type": "text", "fontSize": 16.5, "fill": "#595959",
    "dx": {"expr": "datum.cat==='そう思う'?162:datum.cat==='まあそう思う'?-161:109"},
    "dy": {"expr": "(datum.cat==='そう思う'?111:datum.cat==='まあそう思う'?31:-32)-12"}},
   "encoding": {"text": {"field": "cat", "type": "nominal"}}},
  {"mark": {"type": "text", "fontSize": 16.5, "fill": "#595959",
    "dx": {"expr": "datum.cat==='そう思う'?162:datum.cat==='まあそう思う'?-161:109"},
    "dy": {"expr": "(datum.cat==='そう思う'?111:datum.cat==='まあそう思う'?31:-32)+12"}},
   "encoding": {"text": {"field": "pct", "type": "quantitative", "format": ".0%"}}}
 ]}
]
}
